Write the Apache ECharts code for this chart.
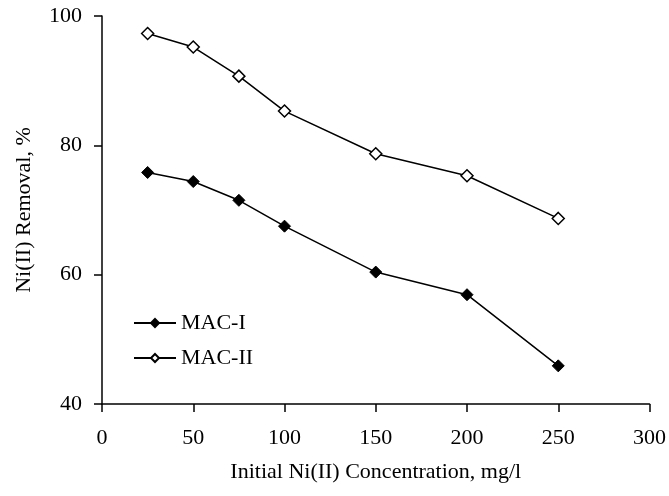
<!DOCTYPE html>
<html>
<head>
<meta charset="utf-8">
<script src="https://cdn.jsdelivr.net/npm/echarts@6/dist/echarts.min.js"></script>
<style>
html, body { margin: 0; padding: 0; background: #fff; }
#chart { width: 669px; height: 496px; }
</style>
</head>
<body>
<div id="chart"></div>
<script>
// initial concentration, mg/l
var conc = [25, 50, 75, 100, 150, 200, 250];
var macI = [75.8, 74.4, 71.5, 67.5, 60.4, 56.9, 45.9];
var macII = [97.3, 95.2, 90.7, 85.3, 78.7, 75.3, 68.7];

function pairs(xs, ys) {
	return xs.map(function(x, i) { return [x, ys[i]]; });
}

var font = 'Liberation Serif';
var myChart = echarts.init(document.getElementById('chart'));

option = {
	animation: false,
	backgroundColor: '#fff',
	textStyle: { fontFamily: font, color: '#000' },
	legend: {
		orient: 'vertical',
		left: 128,
		top: 307,
		itemWidth: 42,
		itemHeight: 10,
		itemGap: 13,
		textStyle: { fontFamily: font, fontSize: 22, color: '#000' },
		data: ['MAC-I', 'MAC-II']
	},
	grid: {
		left: 102,
		right: 18,
		top: 16,
		bottom: 92
	},
	xAxis: {
		type: 'value',
		min: 0,
		max: 300,
		interval: 50,
		name: 'Initial Ni(II) Concentration, mg/l',
		nameLocation: 'middle',
		nameGap: 57,
		nameTextStyle: { fontFamily: font, fontSize: 22, color: '#000' },
		axisLine: { lineStyle: { color: '#000', width: 1.5 } },
		axisTick: { inside: false, length: 8, lineStyle: { color: '#000', width: 1.5 } },
		axisLabel: { margin: 23, fontFamily: font, fontSize: 22, color: '#000' },
		splitLine: { show: false }
	},
	yAxis: {
		type: 'value',
		min: 40,
		max: 100,
		interval: 20,
		name: 'Ni(II) Removal, %',
		nameLocation: 'middle',
		nameGap: 67,
		nameTextStyle: { fontFamily: font, fontSize: 22, color: '#000' },
		axisLine: { show: true, lineStyle: { color: '#000', width: 1.5 } },
		axisTick: { show: true, length: 8, lineStyle: { color: '#000', width: 1.5 } },
		axisLabel: { margin: 20, fontFamily: font, fontSize: 22, color: '#000' },
		splitLine: { show: false }
	},
	series: [{
			name: 'MAC-I',
			type: 'line',
			data: pairs(conc, macI),
			symbol: 'diamond',
			symbolSize: 12,
			lineStyle: { color: '#000', width: 1.5 },
			itemStyle: { color: '#000', borderColor: '#000', borderWidth: 1 }
		},
		{
			name: 'MAC-II',
			type: 'line',
			data: pairs(conc, macII),
			symbol: 'diamond',
			symbolSize: 12,
			lineStyle: { color: '#000', width: 1.5 },
			itemStyle: { color: '#fff', borderColor: '#000', borderWidth: 1.5 }
		}
	]
};

myChart.setOption(option);
</script>
</body>
</html>
